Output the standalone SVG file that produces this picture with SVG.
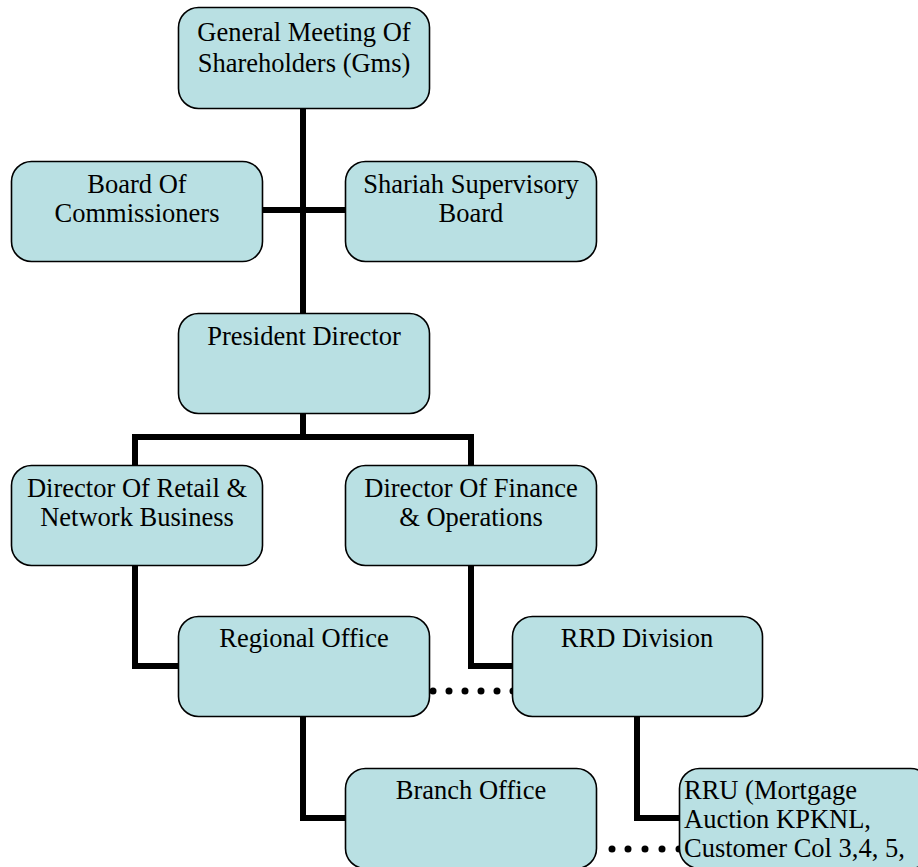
<svg xmlns="http://www.w3.org/2000/svg" width="918" height="867" viewBox="0 0 918 867">
  <style>
    .box { fill: #b9e0e3; stroke: #000; stroke-width: 1.6; }
    .lbl { font-family: 'Liberation Serif', Tinos, 'Times New Roman', 'Nimbus Roman', 'DejaVu Serif', serif; font-size: 26.5px; fill: #000; text-anchor: middle; }
    .lft { text-anchor: start; }
    .link { fill: none; stroke: #000; stroke-width: 6; stroke-linejoin: miter; }
    .dot { fill: #000; }
  </style>
  <rect width="918" height="867" fill="#fff"/>

  <!-- connectors -->
  <g id="connectors">
    <path class="link" d="M303 108 V313"/>
    <path class="link" d="M262 210 H345"/>
    <path class="link" d="M303 413 V437 M135 465 V437 H471 V465"/>
    <path class="link" d="M135 566 V666 H178"/>
    <path class="link" d="M471 566 V666 H512"/>
    <path class="link" d="M303 717 V818 H345"/>
    <path class="link" d="M637 717 V818 H679"/>
    <g id="dotted-regional-rrd">
      <circle class="dot" cx="433" cy="691" r="3.5"/>
      <circle class="dot" cx="449" cy="691" r="3.5"/>
      <circle class="dot" cx="465" cy="691" r="3.5"/>
      <circle class="dot" cx="481" cy="691" r="3.5"/>
      <circle class="dot" cx="497" cy="691" r="3.5"/>
      <circle class="dot" cx="513" cy="691" r="3.5"/>
    </g>
    <g id="dotted-branch-rru">
      <circle class="dot" cx="612" cy="849" r="3.5"/>
      <circle class="dot" cx="628" cy="849" r="3.5"/>
      <circle class="dot" cx="645" cy="849" r="3.5"/>
      <circle class="dot" cx="662" cy="849" r="3.5"/>
      <circle class="dot" cx="679" cy="849" r="3.5"/>
    </g>
  </g>

  <g id="gms">
    <rect class="box" x="178.5" y="7.5" width="251" height="101" rx="20"/>
    <text class="lbl" x="304" y="41">General Meeting Of</text>
    <text class="lbl" x="304" y="72">Shareholders (Gms)</text>
  </g>
  <g id="board-commissioners">
    <rect class="box" x="11.5" y="161.5" width="251" height="100" rx="20"/>
    <text class="lbl" x="137" y="193">Board Of</text>
    <text class="lbl" x="137" y="222">Commissioners</text>
  </g>
  <g id="shariah-board">
    <rect class="box" x="345.5" y="161.5" width="251" height="100" rx="20"/>
    <text class="lbl" x="471" y="193">Shariah Supervisory</text>
    <text class="lbl" x="471" y="222">Board</text>
  </g>
  <g id="president-director">
    <rect class="box" x="178.5" y="313.5" width="251" height="100" rx="20"/>
    <text class="lbl" x="304" y="345">President Director</text>
  </g>
  <g id="director-retail">
    <rect class="box" x="11.5" y="465.5" width="251" height="100" rx="20"/>
    <text class="lbl" x="137" y="497">Director Of Retail &amp;</text>
    <text class="lbl" x="137" y="526">Network Business</text>
  </g>
  <g id="director-finance">
    <rect class="box" x="345.5" y="465.5" width="251" height="100" rx="20"/>
    <text class="lbl" x="471" y="497">Director Of Finance</text>
    <text class="lbl" x="471" y="526">&amp; Operations</text>
  </g>
  <g id="regional-office">
    <rect class="box" x="178.5" y="616.5" width="251" height="100" rx="20"/>
    <text class="lbl" x="304" y="647">Regional Office</text>
  </g>
  <g id="rrd-division">
    <rect class="box" x="512.5" y="616.5" width="250" height="100" rx="20"/>
    <text class="lbl" x="637" y="647">RRD Division</text>
  </g>
  <g id="branch-office">
    <rect class="box" x="345.5" y="768.5" width="251" height="100" rx="20"/>
    <text class="lbl" x="471" y="799">Branch Office</text>
  </g>
  <g id="rru">
    <rect class="box" x="679.5" y="768.5" width="251" height="100" rx="20"/>
    <text class="lbl lft" x="684" y="799">RRU (Mortgage</text>
    <text class="lbl lft" x="684" y="828">Auction KPKNL,</text>
    <text class="lbl lft" x="684" y="857">Customer Col 3,4, 5,</text>
  </g>
</svg>
